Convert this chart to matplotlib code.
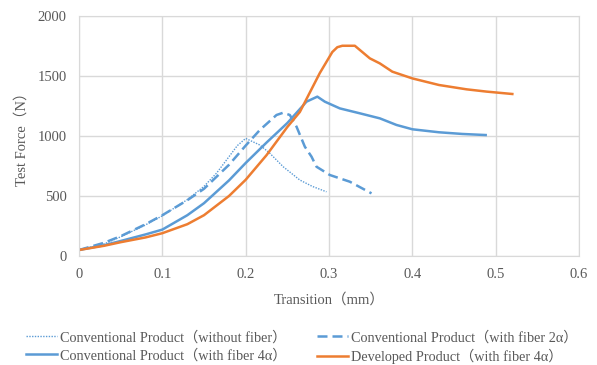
import matplotlib
matplotlib.use("Agg")
import matplotlib.pyplot as plt

plt.rcParams['font.family'] = ['Liberation Serif', 'Noto Sans CJK JP']

# data (x in mm, force in N)
x_nofiber = [0, 0.03, 0.05, 0.08, 0.1, 0.13, 0.15, 0.165, 0.177, 0.19, 0.2,
             0.217, 0.229, 0.245, 0.265, 0.28, 0.297]
y_nofiber = [50, 100, 160, 260, 335, 470, 580, 690, 800, 920, 980,
             925, 856, 744, 633, 580, 535]

x_2a = [0, 0.03, 0.05, 0.08, 0.1, 0.13, 0.15, 0.18, 0.2, 0.217, 0.237, 0.245,
        0.253, 0.261, 0.271, 0.279, 0.285, 0.301, 0.325, 0.351]
y_2a = [50, 110, 165, 265, 340, 465, 560, 760, 920, 1050, 1175, 1194,
        1175, 1078, 911, 828, 744, 675, 619, 522]

x_4a = [0, 0.03, 0.05, 0.08, 0.1, 0.13, 0.15, 0.18, 0.2, 0.225, 0.25, 0.273,
        0.286, 0.295, 0.313, 0.337, 0.361, 0.381, 0.4, 0.432, 0.46, 0.488]
y_4a = [50, 90, 125, 180, 220, 340, 440, 630, 775, 945, 1108, 1286,
        1328, 1286, 1230, 1189, 1147, 1092, 1056, 1031, 1017, 1008]

x_dev = [0, 0.03, 0.05, 0.08, 0.1, 0.13, 0.15, 0.18, 0.2, 0.225, 0.25, 0.265,
         0.289, 0.304, 0.31, 0.316, 0.331, 0.349, 0.361, 0.376, 0.4, 0.432,
         0.465, 0.489, 0.52]
y_dev = [50, 85, 115, 155, 190, 265, 340, 500, 635, 840, 1075, 1200,
         1525, 1700, 1740, 1752, 1752, 1647, 1605, 1536, 1480, 1425,
         1389, 1370, 1350]

labels = ['Conventional Product（without fiber）',
          'Conventional Product（with fiber 2α）',
          'Conventional Product（with fiber 4α）',
          'Developed Product（with fiber 4α）']

blue = '#5B9BD5'
orange = '#ED7D31'

fig = plt.figure(figsize=(5.97, 3.65), dpi=100)
ax = fig.add_axes([79/597, 1 - 256/365, 500/597, 240/365])

l1, = ax.plot(x_nofiber, y_nofiber, color=blue, lw=1.0, ls=(0, (1, 1)), label=labels[0])
l2, = ax.plot(x_2a, y_2a, color=blue, lw=1.8, ls=(0, (4, 2)), label=labels[1])
l3, = ax.plot(x_4a, y_4a, color=blue, lw=1.8, label=labels[2])
l4, = ax.plot(x_dev, y_dev, color=orange, lw=1.8, label=labels[3])

ax.set_xlim(0, 0.6)
ax.set_ylim(0, 2000)
ax.set_xticks([0, 0.1, 0.2, 0.3, 0.4, 0.5, 0.6])
ax.set_xticklabels(['0', '0.1', '0.2', '0.3', '0.4', '0.5', '0.6'])
ax.set_yticks([0, 500, 1000, 1500, 2000])
ax.grid(True, color='#D9D9D9', lw=1)
ax.set_axisbelow(True)
for s in ax.spines.values():
    s.set_color('#D9D9D9')
ax.tick_params(length=0, labelsize=10.5, colors='#595959', pad=9)

ax.set_xlabel('Transition（mm）', fontsize=10.5, color='#595959', labelpad=8)
ax.set_ylabel('Test Force（N）', fontsize=10.5, color='#595959', labelpad=6)

fig.legend([l1, l3, l2, l4], [labels[0], labels[2], labels[1], labels[3]],
           ncol=2, loc='lower left', bbox_to_anchor=(0.022, -0.032),
           frameon=False, fontsize=10.3, handlelength=2.15, handletextpad=0.2,
           columnspacing=2.15, labelspacing=0.3, labelcolor='#595959')

fig.savefig('out.png', dpi=100)
